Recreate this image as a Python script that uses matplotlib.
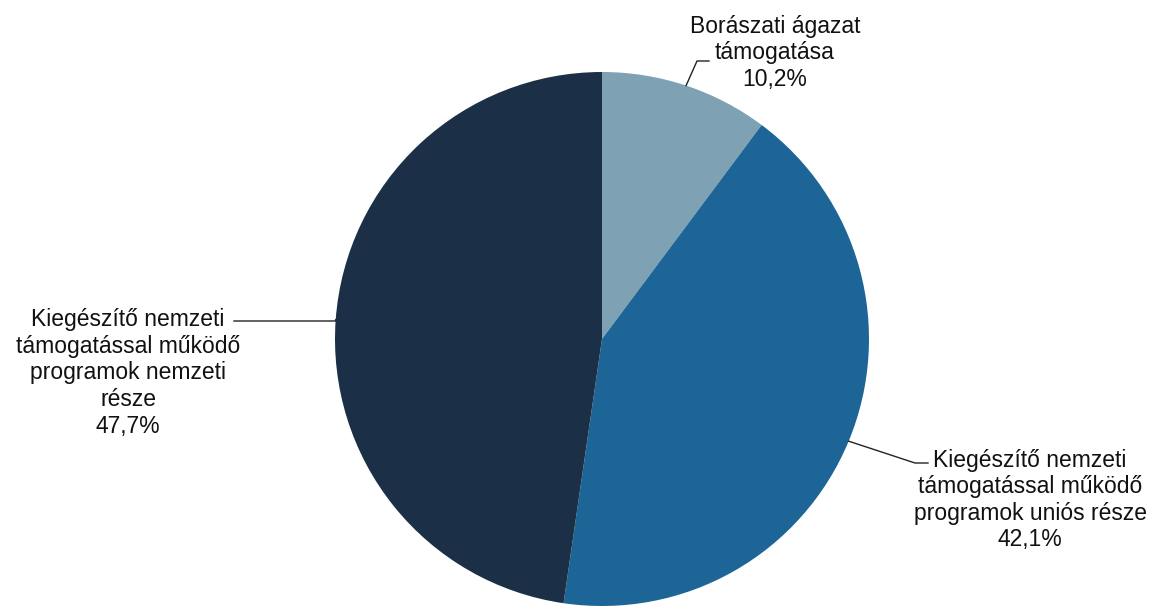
import numpy as np
import matplotlib.pyplot as plt

labels = ['Borászati ágazat\ntámogatása',
          'Kiegészítő nemzeti\ntámogatással működő\nprogramok uniós része',
          'Kiegészítő nemzeti\ntámogatással működő\nprogramok nemzeti\nrésze']
values = [10.2, 42.1, 47.7]
colors = ['#7FA1B4', '#1D6596', '#1B3046']

plt.rcParams['font.family'] = ['Liberation Sans', 'DejaVu Sans']

fig = plt.figure(figsize=(11.58, 6.06), dpi=100)
ax = fig.add_axes([0, 0, 1, 1])

cx, cy, r = 602, 267, 267
wedges, _ = ax.pie(values, colors=colors, startangle=90, counterclock=False,
                   center=(cx, cy), radius=r, frame=True)
ax.set_xlim(0, 1158)
ax.set_ylim(0, 606)
ax.set_aspect('equal')
ax.axis('off')

# leader elbow, line end, text center (pixel layout, y up)
layout = [
    ((697, 545), (709, 545), (775, 553)),
    ((915, 143), (928, 143), (1030, 106)),
    ((336, 285), (234, 285), (128, 233)),
]

for w, lab, val, (elbow, end, txt) in zip(wedges, labels, values, layout):
    ang = np.deg2rad((w.theta1 + w.theta2) / 2)
    x0 = cx + r * np.cos(ang)
    y0 = cy + r * np.sin(ang)
    ax.plot([x0, elbow[0], end[0]], [y0, elbow[1], end[1]],
            color='#222222', lw=1)
    ax.text(txt[0], txt[1], f'{lab}\n{val:.1f}%'.replace('.', ','),
            ha='center', va='center', fontsize=16.5, linespacing=1.2,
            color='#111111')

fig.savefig('out.png', dpi=100)
